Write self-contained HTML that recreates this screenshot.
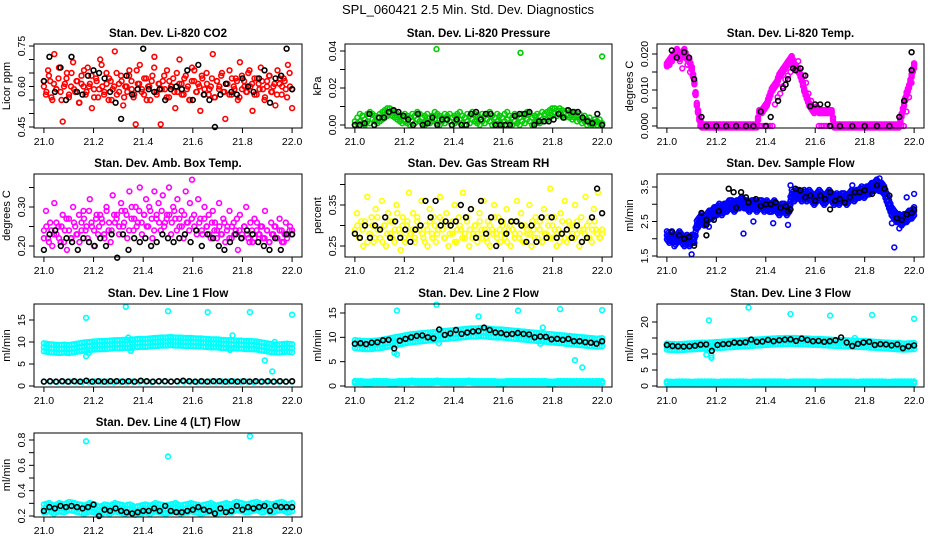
<!DOCTYPE html>
<html><head><meta charset="utf-8"><style>
html,body{margin:0;padding:0;background:#fff}
svg{display:block;font-family:"Liberation Sans",Arial,sans-serif}
.t{font-weight:bold;font-size:11.5px}
.tk{font-size:10.5px}
</style></head><body>
<svg id="c" width="936" height="540" viewBox="0 0 936 540">
<rect x="0" y="0" width="936" height="540" fill="#fff"/>
<text x="468" y="14" text-anchor="middle" font-size="13">SPL_060421  2.5 Min. Std. Dev. Diagnostics</text>
</svg>
<script>
// ---- data ----
const co2Red1=[.60,.57,.66,.62,.55,.72,.59,.63,.58,.47,.61,.65,.56,.60,.69,.58,.62,.54,.64,.60,.57,.67,.61,.52,.59,.63,.56,.70,.60,.58,.65,.55,.62,.59,.73,.57,.61,.64,.53,.60,.58,.66,.62,.56,.46,.61,.68,.59,.57,.63,.60,.55,.64,.71,.58,.61,.46,.62,.59,.66,.56,.60,.63,.52,.58,.70,.61,.57,.64,.60,.55,.67,.62,.58,.61,.51,.63,.59,.65,.57,.60,.72,.56,.62,.59,.64,.58,.48,.61,.66,.57,.60,.63,.55,.69,.59,.62,.58,.65,.60,.51,.63,.57,.61,.67,.59,.56,.62,.64,.58,.60,.53,.66,.61,.57,.63,.59,.68,.60,.52];
const co2Red2=[.62,.58,.64,.56,.61,.59,.67,.55,.60,.63,.57,.65,.59,.62,.54,.61,.66,.58,.60,.64,.56,.62,.59,.68,.57,.61,.63,.55,.60,.65,.58,.62,.56,.60,.64,.59,.57,.66,.61,.58,.63,.55,.60,.62,.67,.57,.61,.59,.64,.56,.62,.60,.58,.65,.61,.57,.63,.59,.55,.62,.66,.58,.60,.64,.57,.61,.59,.63,.56,.62,.60,.65,.58,.61,.57,.63,.59,.62,.56,.64,.60,.58,.66,.61,.57,.63,.59,.62,.55,.60,.64,.58,.61,.57,.63,.60,.62,.56,.65,.59];
const co2Black=[.62,.71,.58,.67,.55,.71,.58,.57,.64,.66,.65,.63,.58,.54,.48,.64,.57,.59,.74,.59,.58,.59,.55,.59,.60,.59,.66,.55,.68,.57,.55,.45,.57,.61,.58,.57,.63,.60,.58,.63,.66,.54,.63,.64,.74,.59];

const presGreenA=[.002,.004,.006,.005,.003,.006,.007,.006,.005,.004,.006,.007,.008,.009,.009,.008,.007,.006,.005,.004,.006,.005,.004,.006,.005,.007,.006,.004,.005,.006,.004,.005,.007,.006,.005,.004,.006,.005,.006,.004,.005,.006,.007,.005,.004,.006,.005,.007,.006,.005,.004,.006,.005,.006,.007,.005,.004,.006,.005,.004,.006,.007,.005,.004,.006,.005,.004,.006,.005,.007,.006,.004,.005,.006,.005,.007,.006,.007,.008,.009,.009,.008,.009,.008,.007,.008,.007,.006,.007,.005,.006,.004,.005,.003,.004,.002,.003,.002,.003,.001];
const presGreenB=[.000,.001,.002,.001,.000,.002,.001,.003,.002,.001,.002,.003,.004,.005,.006,.005,.004,.003,.002,.001,.002,.001,.000,.002,.001,.003,.002,.001,.000,.002,.001,.002,.003,.001,.000,.002,.001,.003,.002,.000,.001,.002,.003,.001,.000,.002,.001,.003,.002,.001,.000,.002,.001,.003,.002,.000,.001,.002,.001,.000,.002,.003,.001,.000,.002,.001,.000,.002,.001,.003,.002,.000,.001,.002,.001,.003,.002,.003,.004,.005,.006,.005,.006,.005,.004,.005,.004,.003,.004,.002,.003,.001,.002,.000,.001,.000,.001,.000,.001,.000];
const presOutX=[21.33,21.67,22.0];
const presOutY=[.041,.039,.037];
const presBlack=[.000,.000,.001,.006,.000,.004,.004,.007,.008,.007,.005,.003,.000,.006,.000,.001,.004,.000,.003,.003,.000,.003,.000,.000,.006,.007,.003,.006,.006,.000,.000,.000,.000,.005,.006,.006,.007,.000,.002,.002,.002,.003,.006,.004,.008,.007,.007,.004,.002,.001,.006,.000];

const tempMagA=[.017,.018,.019,.020,.021,.019,.020,.021,.019,.018,.016,.012,.006,.002,0,0,0,0,0,0,0,0,0,0,0,0,0,0,0,0,0,0,0,0,0,0,0,.004,.004,.005,.006,.008,.010,.011,.012,.014,.015,.016,.017,.018,.019,.017,.016,.015,.013,.010,.008,.006,.005,.004,.005,.004,.004,.004,.004,.004,.004,0,0,0,0,0,0,0,0,0,0,0,0,0,0,0,0,0,0,0,0,0,0,0,0,0,0,0,.003,.006,.009,.011,.014,.017];
const tempMagB=[.017,.017,.018,.019,.020,.018,.016,.019,.017,.015,.014,.009,.004,0,0,0,0,0,0,0,0,0,0,0,0,0,0,0,0,0,0,0,0,0,0,0,0,0,0,0,0,0,.006,.008,.009,.011,.013,.014,.015,.016,.017,.018,.016,.014,.012,.009,.007,.005,.004,0,0,0,0,0,0,0,0,0,0,0,0,0,0,0,0,0,0,0,0,0,0,0,0,0,0,0,0,0,0,0,0,0,0,.004,.008,.012,.016];
const tempBlackX=[21.02,21.04,21.07,21.09,21.11,21.14,21.16,21.2,21.24,21.28,21.32,21.35,21.38,21.4,21.42,21.45,21.47,21.48,21.49,21.51,21.52,21.54,21.56,21.58,21.6,21.62,21.65,21.66,21.7,21.75,21.8,21.85,21.9,21.94,21.96,21.99,21.99];
const tempBlackY=[.021,.019,.0205,.019,.013,.0025,0,0,0,0,0,0,.004,0,.0025,.007,.0105,.0115,.013,.016,.0155,.016,.014,.0055,.006,.006,.006,0,0,0,0,0,0,.0025,.007,.0155,.0205];

const ambMagA=[.24,.29,.22,.26,.20,.31,.23,.25,.21,.28,.24,.19,.27,.22,.30,.25,.23,.21,.26,.29,.24,.22,.32,.25,.20,.27,.23,.28,.26,.22,.30,.24,.21,.33,.26,.28,.23,.31,.25,.29,.22,.34,.27,.24,.30,.26,.35,.23,.28,.32,.25,.29,.22,.34,.27,.31,.24,.33,.26,.28,.35,.23,.30,.27,.32,.25,.29,.22,.34,.26,.31,.37,.28,.24,.32,.27,.23,.30,.25,.28,.22,.29,.26,.24,.31,.23,.27,.21,.25,.29,.22,.26,.24,.19,.28,.23,.25,.30,.22,.26,.21,.27,.24,.23,.25,.22,.29,.24,.21,.26,.23,.25,.22,.27,.24,.21,.26,.23,.25,.24];
const ambMagB=[.22,.25,.21,.24,.23,.26,.22,.25,.21,.27,.24,.22,.26,.23,.28,.24,.27,.25,.29,.26,.24,.28,.25,.27,.23,.29,.26,.24,.28,.27,.25,.29,.26,.28,.24,.30,.27,.25,.29,.26,.28,.25,.30,.27,.24,.28,.26,.29,.25,.27,.28,.26,.29,.24,.27,.25,.28,.26,.24,.27,.25,.23,.26,.24,.27,.25,.23,.26,.24,.22,.25,.23,.26,.24,.22,.25,.23,.27,.24,.22,.25,.23,.21,.24,.22,.26,.23,.25,.22,.24,.21,.23,.25,.22,.24,.21,.23,.22,.24,.23];
const ambBlack=[.19,.23,.24,.20,.22,.21,.19,.22,.21,.20,.22,.20,.23,.17,.23,.19,.22,.21,.22,.20,.21,.23,.22,.21,.22,.23,.21,.24,.20,.23,.22,.20,.19,.21,.23,.22,.24,.23,.21,.20,.19,.22,.19,.23,.23];

const rhYelA=[.29,.33,.27,.31,.25,.30,.37,.28,.32,.26,.34,.29,.27,.36,.30,.25,.33,.28,.31,.26,.35,.29,.24,.32,.27,.30,.38,.28,.33,.26,.31,.29,.36,.27,.30,.25,.34,.28,.32,.26,.29,.37,.31,.27,.33,.25,.30,.28,.35,.26,.32,.29,.38,.27,.31,.25,.34,.28,.30,.26,.33,.29,.36,.27,.31,.25,.29,.35,.28,.32,.26,.30,.27,.34,.29,.25,.31,.28,.36,.27,.33,.26,.30,.28,.35,.25,.29,.32,.27,.31,.26,.34,.28,.30,.39,.27,.32,.25,.29,.33,.28,.36,.26,.31,.27,.30,.35,.28,.25,.32,.29,.37,.27,.31,.26,.34,.29,.38,.27,.28];
const rhYelB=[.28,.30,.27,.29,.31,.26,.28,.30,.27,.32,.29,.26,.30,.28,.31,.27,.29,.33,.28,.30,.26,.31,.28,.29,.27,.32,.30,.28,.26,.29,.31,.27,.30,.28,.32,.29,.27,.30,.28,.31,.26,.29,.30,.27,.28,.32,.29,.27,.30,.28,.31,.27,.29,.26,.30,.28,.32,.27,.29,.31,.28,.26,.30,.29,.27,.31,.28,.30,.26,.29,.28,.31,.27,.30,.29,.26,.28,.32,.27,.30,.29,.28,.26,.31,.27,.29,.30,.28,.27,.31,.29,.26,.28,.30,.27,.29,.31,.28,.27,.29];
const rhBlack=[.28,.27,.30,.27,.30,.29,.32,.27,.31,.27,.29,.26,.29,.30,.36,.32,.36,.30,.31,.30,.31,.35,.32,.34,.27,.36,.28,.32,.25,.31,.28,.31,.31,.30,.26,.30,.26,.32,.27,.32,.27,.28,.29,.27,.30,.26,.27,.32,.39,.33];

const flowBlue=[2.1,2.0,2.1,1.9,2.0,2.1,2.0,1.9,2.0,1.9,2.0,2.0,2.4,2.5,2.6,2.5,2.6,2.7,2.7,2.8,2.8,2.9,2.8,2.9,2.9,3.0,3.0,2.9,3.0,3.0,3.1,3.0,3.0,2.9,3.0,3.0,2.9,3.0,3.0,2.9,3.0,2.9,2.9,3.0,2.9,2.8,2.9,2.9,2.8,2.9,3.3,3.2,3.3,3.3,3.2,3.3,3.2,3.3,3.2,3.1,3.2,3.3,3.2,3.1,3.2,3.3,3.2,3.1,3.2,3.1,3.2,3.2,3.1,3.2,3.3,3.2,3.3,3.3,3.4,3.3,3.4,3.4,3.5,3.5,3.6,3.5,3.5,3.4,3.2,3.0,2.8,2.7,2.6,2.6,2.5,2.6,2.6,2.7,2.7,2.8];
const flowOutX=[21.1,21.17,21.31,21.35,21.43,21.49,21.5,21.75,21.86,21.91,21.92,21.94,21.97,22.0];
const flowOutY=[1.55,2.35,2.15,2.5,2.45,2.4,3.55,3.55,3.75,2.45,1.75,2.3,3.2,3.3];
const flowBlackX=[21.02,21.05,21.07,21.09,21.11,21.14,21.16,21.16,21.16,21.19,21.21,21.25,21.27,21.28,21.3,21.32,21.33,21.36,21.38,21.4,21.42,21.44,21.46,21.48,21.49,21.5,21.52,21.54,21.56,21.58,21.6,21.62,21.64,21.66,21.66,21.68,21.7,21.72,21.74,21.76,21.78,21.8,21.83,21.85,21.88,21.9,21.93,21.95,21.97,21.99,22.0];
const flowBlackY=[2.2,2.1,2.0,2.05,1.8,2.75,2.55,2.4,2.1,2.55,2.8,3.45,3.35,2.9,3.35,3.2,3.05,3.15,2.95,3.0,3.0,3.05,2.9,2.95,2.8,2.85,3.45,3.4,3.2,3.25,3.1,3.25,3.15,3.35,2.85,3.1,3.15,3.05,3.2,3.35,3.35,3.4,3.3,3.55,3.45,3.25,2.6,2.55,2.7,2.75,2.85];

const l1Cyan=[8.8,8.6,8.5,8.4,8.5,8.4,8.6,8.8,9.0,9.1,9.2,9.3,9.3,9.4,9.5,9.5,9.6,9.6,9.7,9.8,9.8,9.9,10.0,10.1,10.1,10.2,10.1,10.1,10.0,10.0,9.9,9.9,9.8,9.7,9.7,9.6,9.5,9.5,9.4,9.4,9.3,9.3,9.2,9.0,8.8,8.6,8.5,8.6,8.7,8.6];
const l1CyanLow=[1.0,1.0,0.9,1.0,1.0,1.0,0.9,1.0,1.0,1.0,1.0,0.9,1.0,1.0,1.0,1.0,1.0,0.9,1.0,1.0,1.0,1.0,1.0,1.0,0.9,1.0,1.0,1.0,1.0,1.0,1.0,1.0,1.0,0.9,1.0,1.0,1.0,1.0,1.0,1.0];
const l1Black=[1.0,1.1,1.0,1.1,1.0,1.1,1.0,1.2,1.0,1.1,1.0,1.1,1.1,1.0,1.1,1.0,1.2,1.1,1.0,1.1,1.1,1.0,1.1,1.2,1.1,1.0,1.1,1.0,1.1,1.1,1.0,1.1,1.0,1.1,1.0,1.1,1.0,1.1,1.0,1.1,1.0,1.1];
const l1OutX=[21.17,21.17,21.18,21.33,21.34,21.35,21.5,21.66,21.75,21.76,21.83,21.89,21.92,21.93,22.0];
const l1OutY=[15.5,6.8,7.5,18,11,8,17,16.8,8.2,11.5,16.8,5.8,3.3,10,16.2];

const l2Cyan=[8.6,8.5,8.4,8.4,8.5,8.6,8.8,9.0,9.2,9.4,9.6,9.8,9.9,10.0,10.1,10.2,10.3,10.4,10.5,10.6,10.7,10.8,10.9,11.0,11.0,11.1,11.0,10.9,10.8,10.8,10.7,10.6,10.5,10.4,10.3,10.2,10.1,10.0,9.9,9.8,9.7,9.6,9.5,9.4,9.3,9.2,9.1,9.0,8.9,9.0];
const l2CyanLow=[0.8,0.8,0.7,0.8,0.8,0.8,0.7,0.8,0.8,0.9,0.8,0.8,0.8,0.9,0.8,0.8,0.8,0.8,0.9,0.8,0.8,0.8,0.8,0.7,0.8,0.8,0.8,0.8,0.8,0.8,0.8,0.7,0.8,0.8,0.8,0.8,0.8,0.8,0.8,0.8];
const l2Black=[8.7,8.8,8.6,8.9,9.0,9.4,9.5,7.7,9.3,9.7,10.0,10.3,10.4,10.0,9.8,11.6,10.5,10.8,11.5,10.7,11.0,11.2,11.3,12.0,11.5,11.0,10.9,10.6,10.7,10.9,10.7,10.6,10.0,10.2,10.1,9.6,9.7,9.5,9.7,9.2,9.2,9.0,8.9,8.7,9.2];
const l2OutX=[21.17,21.16,21.17,21.33,21.34,21.5,21.66,21.75,21.76,21.83,21.89,21.92,22.0];
const l2OutY=[15.5,6.8,6.5,16.7,8.8,14.3,15.5,8.7,12,15.8,5.3,3.8,15.6];

const l3Cyan=[12.3,12.2,12.1,12.2,12.3,12.4,12.5,12.6,12.6,12.7,12.8,12.9,13.0,13.1,13.2,13.3,13.4,13.5,13.6,13.7,13.8,13.9,14.0,14.0,14.1,14.1,14.0,14.0,13.9,13.8,13.8,13.7,13.6,13.5,13.4,13.4,13.3,13.2,13.2,13.1,13.0,12.9,12.8,12.7,12.6,12.5,12.4,12.3,12.4,12.5];
const l3CyanLow=[1.1,1.0,1.1,1.1,1.0,1.1,1.1,1.1,1.0,1.1,1.1,1.1,1.1,1.0,1.1,1.1,1.1,1.1,1.1,1.0,1.1,1.1,1.1,1.1,1.0,1.1,1.1,1.1,1.1,1.1,1.0,1.1,1.1,1.1,1.1,1.0,1.1,1.1,1.1,1.1];
const l3Black=[12.8,12.5,12.4,12.3,12.4,12.6,12.9,13.0,11.0,12.8,13.1,13.2,13.6,13.5,13.7,14.5,13.8,13.9,14.4,14.0,14.3,14.5,14.6,14.1,14.8,14.4,14.0,14.1,13.8,14.0,14.3,15.2,13.6,12.5,13.2,13.6,13.8,12.8,13.1,13.0,12.7,13.0,11.8,12.4,12.7];
const l3OutX=[21.17,21.16,21.18,21.18,21.33,21.5,21.66,21.76,21.83,21.94,22.0];
const l3OutY=[20.5,9.8,8.8,9.5,24.5,22.5,22,15,22.2,13.5,21];

const l4Cyan=[.26,.27,.25,.27,.26,.28,.27,.26,.25,.27,.26,.24,.26,.25,.27,.26,.25,.26,.24,.25,.26,.25,.27,.26,.25,.26,.27,.25,.26,.27,.26,.25,.26,.27,.25,.26,.27,.26,.28,.27,.26,.27,.28,.26,.27,.26,.27,.28,.26,.27];
const l4Black=[.24,.27,.26,.28,.27,.28,.27,.26,.27,.29,.20,.25,.24,.26,.24,.23,.22,.23,.24,.24,.26,.24,.28,.24,.23,.23,.24,.25,.27,.25,.24,.22,.26,.23,.24,.28,.25,.27,.26,.27,.28,.24,.28,.27,.27,.27];
const l4OutX=[21.17,21.5,21.83];
const l4OutY=[.79,.67,.83];

const xTicks=[21.0,21.2,21.4,21.6,21.8,22.0];
const xTickLabels=["21.0","21.2","21.4","21.6","21.8","22.0"];

// ---- panel config (layout + styles) ----
const C=[[34,302],[345,612],[657,924]];
const R=[[44,128],[174,257],[304,387],[433,517]];
const panels=[
 {name:"co2",title:"Stan. Dev. Li-820 CO2",yl:"Licor ppm",c:0,r:0,ref:[0.45,127,0.75,46],
  ticks:[.45,.5,.55,.6,.65,.7,.75],labels:["0.45","","","0.60","","","0.75"],
  series:[{y:co2Red1,col:"#ff0000"},{y:co2Red2,col:"#ff0000"},{y:co2Black,col:"#000"}]},
 {name:"pressure",title:"Stan. Dev. Li-820 Pressure",yl:"kPa",c:1,r:0,ref:[0,125,0.04,51],
  ticks:[0,.01,.02,.03,.04],labels:["0.00","","0.02","","0.04"],
  series:[{y:presGreenA,col:"#00cd00"},{y:presGreenB,col:"#00cd00"},{x:presOutX,y:presOutY,col:"#00cd00"},{y:presBlack,col:"#000"}]},
 {name:"temp",title:"Stan. Dev. Li-820 Temp.",yl:"degrees C",c:2,r:0,ref:[0,126,0.02,54],
  ticks:[0,.005,.01,.015,.02],labels:["0.000","","0.010","","0.020"],
  series:[{y:tempMagA,col:"#ff00ff",band:1.5},{y:tempMagB,col:"#ff00ff"},{x:tempBlackX,y:tempBlackY,col:"#000"}]},
 {name:"amb-box-temp",title:"Stan. Dev. Amb. Box Temp.",yl:"degrees C",c:0,r:1,ref:[0.20,246,0.30,207],
  ticks:[.2,.25,.3,.35],labels:["0.20","","0.30",""],
  series:[{y:ambMagA,col:"#ff00ff"},{y:ambMagB,col:"#ff00ff"},{y:ambBlack,col:"#000"}]},
 {name:"gas-rh",title:"Stan. Dev. Gas Stream RH",yl:"percent",c:1,r:1,ref:[0.25,246,0.35,205],
  ticks:[.25,.3,.35,.4],labels:["0.25","","0.35",""],
  series:[{y:rhYelA,col:"#ffff00"},{y:rhYelB,col:"#ffff00"},{y:rhBlack,col:"#000"}]},
 {name:"sample-flow",title:"Stan. Dev. Sample Flow",yl:"ml/min",c:2,r:1,ref:[1.5,256,3.5,187],
  ticks:[1.5,2,2.5,3,3.5],labels:["1.5","","2.5","","3.5"],
  series:[{y:flowBlue,col:"#0000ff",band:4},{x:flowOutX,y:flowOutY,col:"#0000ff"},{x:flowBlackX,y:flowBlackY,col:"#000"}]},
 {name:"line1-flow",title:"Stan. Dev. Line 1 Flow",yl:"ml/min",c:0,r:2,ref:[0,386,15,320],
  ticks:[0,5,10,15],labels:["0","5","10","15"],
  series:[{y:l1Cyan,col:"#00ffff",band:4},{y:l1CyanLow,col:"#00ffff"},{x:l1OutX,y:l1OutY,col:"#00ffff"},{y:l1Black,col:"#000"}]},
 {name:"line2-flow",title:"Stan. Dev. Line 2 Flow",yl:"ml/min",c:1,r:2,ref:[0,386,15,313],
  ticks:[0,5,10,15],labels:["0","5","10","15"],
  series:[{y:l2Cyan,col:"#00ffff",band:4},{y:l2CyanLow,col:"#00ffff",band:1},{x:l2OutX,y:l2OutY,col:"#00ffff"},{y:l2Black,col:"#000"}]},
 {name:"line3-flow",title:"Stan. Dev. Line 3 Flow",yl:"ml/min",c:2,r:2,ref:[0,386,20,322],
  ticks:[0,5,10,15,20],labels:["0","5","10","","20"],
  series:[{y:l3Cyan,col:"#00ffff",band:3},{y:l3CyanLow,col:"#00ffff",band:1},{x:l3OutX,y:l3OutY,col:"#00ffff"},{y:l3Black,col:"#000"}]},
 {name:"line4-flow",title:"Stan. Dev. Line 4 (LT) Flow",yl:"ml/min",c:0,r:3,ref:[0.2,516,0.8,440],
  ticks:[.2,.3,.4,.5,.6,.7,.8],labels:["0.2","","0.4","","0.6","","0.8"],
  series:[{y:l4Cyan,col:"#00ffff",band:4},{x:l4OutX,y:l4OutY,col:"#00ffff"},{y:l4Black,col:"#000"}]}
];

const svg=document.getElementById('c');
const NS="http://www.w3.org/2000/svg";
function mk(tag,attrs,parent){const e=document.createElementNS(NS,tag);for(const k in attrs)e.setAttribute(k,attrs[k]);parent.appendChild(e);return e;}

panels.forEach(p=>{
  const [L,Rr]=C[p.c],[T,B]=R[p.r];
  const w=Rr-L;
  const xs=v=>L+w*0.037+(v-21)*(w*0.926);
  const [v1,p1,v2,p2]=p.ref;
  const ys=v=>p1+(v-v1)*(p2-p1)/(v2-v1);
  const g=mk('g',{},svg);
  
  
  const tt=mk('text',{x:(L+Rr)/2,y:T-7,'text-anchor':'middle','class':'t'},g);
  tt.textContent=p.title;
  
  
  const pg=mk('g',{fill:'none','stroke-width':'1.6'},g);
  
  
  p.series.forEach(s=>{
    const n=s.y.length;
    const offs=s.band?[-s.band,0,s.band]:[0];
    for(let i=0;i<n;i++){
      const xv=s.x?s.x[i]:21+i/(n-1);
      const cx=xs(xv),cy=ys(s.y[i]);
      offs.forEach(o=>{
        const c=mk('circle',{cx:cx.toFixed(1),cy:(cy+o).toFixed(1),r:'2.4',stroke:s.col},pg);
        
        
      });
      if(s.band && i<n-1){
        const xv2=s.x?s.x[i+1]:21+(i+1)/(n-1);
        const mx=(cx+xs(xv2))/2,my=(cy+ys(s.y[i+1]))/2;
        offs.forEach(o=>{
          const c=mk('circle',{cx:mx.toFixed(1),cy:(my+o).toFixed(1),r:'2.4',stroke:s.col},pg);
          
          
        });
      }
    }
  });
  const fr=mk('rect',{x:L,y:T,width:w,height:B-T,fill:'none',stroke:'#000','stroke-width':'1'},g);
  
  
  const ya=mk('g',{stroke:'#000','stroke-width':'1'},g);
  
  
  mk('line',{x1:L,x2:L,y1:ys(p.ticks[0]),y2:ys(p.ticks[p.ticks.length-1])},ya);
  p.ticks.forEach((t,i)=>{
    const y=ys(t);
    mk('line',{x1:L-5,x2:L,y1:y,y2:y},ya);
    if(p.labels[i]){
      const tx=mk('text',{x:L-9,y:y,'text-anchor':'middle','class':'tk',stroke:'none',transform:`rotate(-90 ${L-9} ${y})`},g);
      tx.textContent=p.labels[i];
      
      
    }
  });
  const yt=mk('text',{x:L-24,y:(T+B)/2,'text-anchor':'middle','font-size':'11',transform:`rotate(-90 ${L-24} ${(T+B)/2})`},g);
  yt.textContent=p.yl;
  
  
  const xa=mk('g',{stroke:'#000','stroke-width':'1'},g);
  
  
  mk('line',{x1:xs(21),x2:xs(22),y1:B,y2:B},xa);
  xTicks.forEach((t,i)=>{
    const x=xs(t);
    mk('line',{x1:x,x2:x,y1:B,y2:B+5},xa);
    const tx=mk('text',{x:x,y:B+17,'text-anchor':'middle','class':'tk'},g);
    tx.textContent=xTickLabels[i];
    
    
  });
});
</script>
</body></html>
